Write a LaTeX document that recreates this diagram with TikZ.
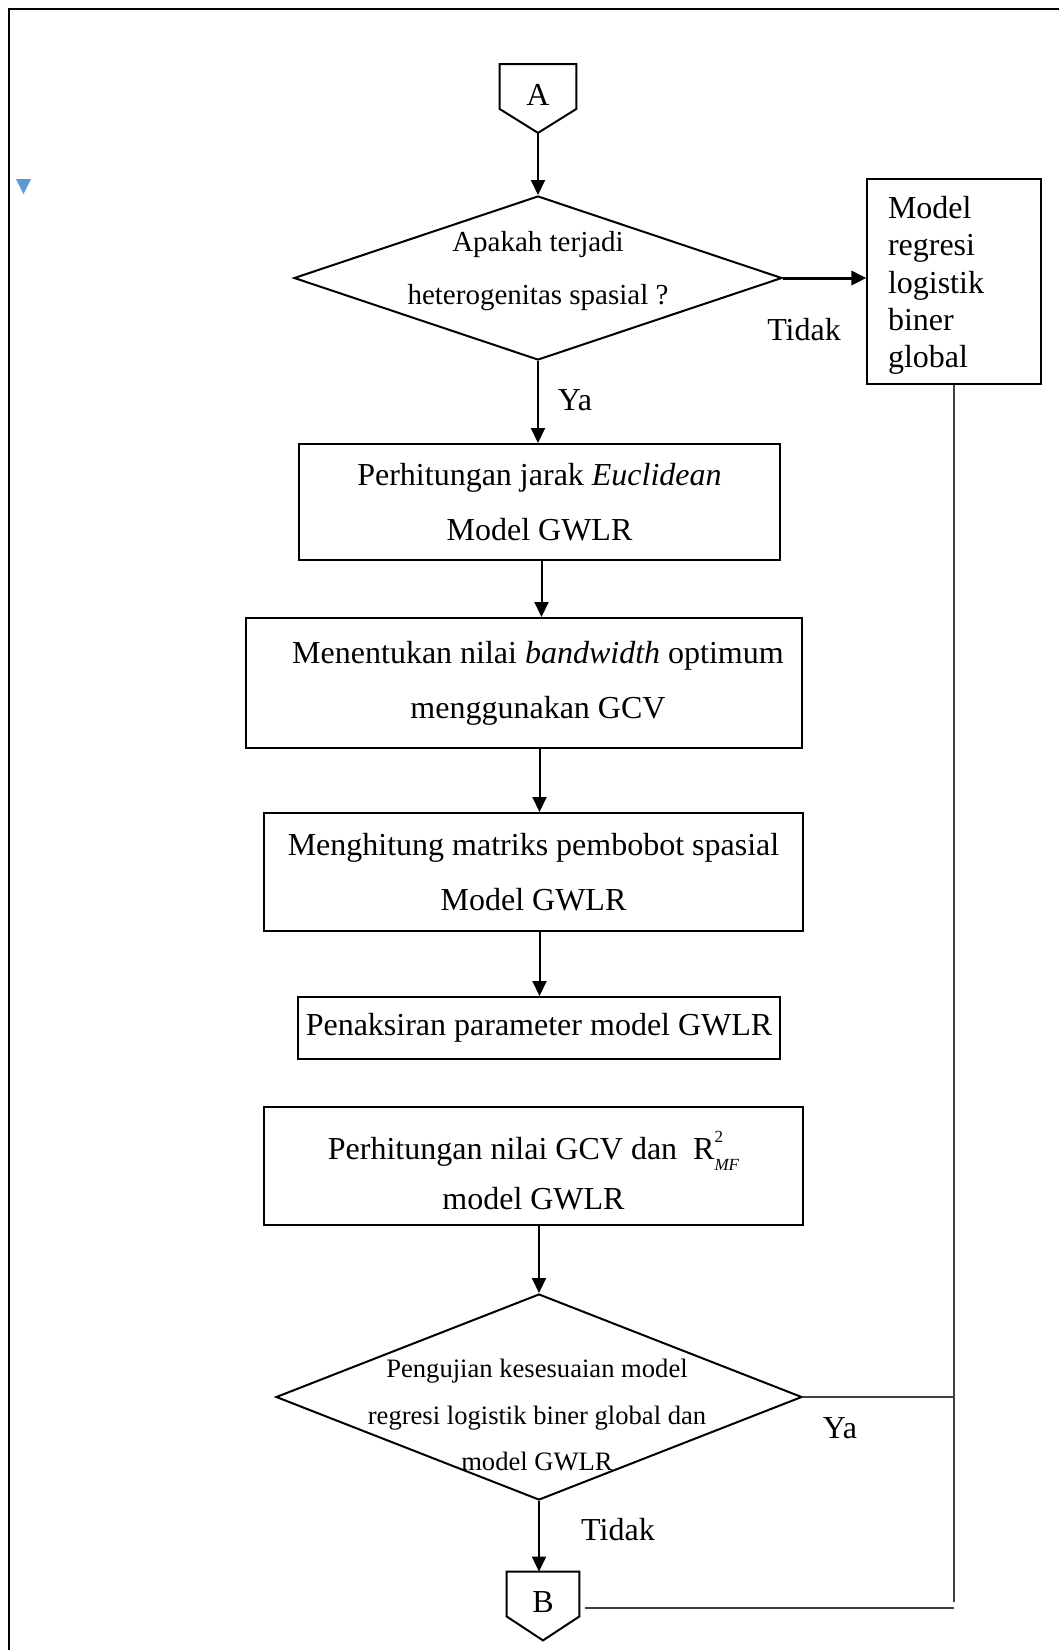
\documentclass[tikz,border=0pt]{standalone}
\usepackage{fontspec}
\setmainfont{Liberation Serif}
\usetikzlibrary{shapes.geometric,arrows.meta,positioning}

\definecolor{markblue}{HTML}{5B9BD5}
\definecolor{linkgray}{HTML}{404040}

\begin{document}
\begin{tikzpicture}[x=0.5pt,y=-0.5pt,
  every node/.style={font=\fontsize{16}{27.5}\selectfont},
  process/.style={draw, line width=1pt, inner sep=0pt, align=center},
  decision/.style={draw, diamond, line width=1pt, inner sep=0pt},
  offpage/.style={minimum width=38pt, minimum height=22pt, inner sep=0pt,
    text height=18.5pt, text depth=0pt},
  flow/.style={line width=1pt, -{Triangle[length=7.5pt,width=7pt]}},
  link/.style={draw=linkgray, line width=0.6pt}]
  \useasboundingbox (0,0) rectangle (1059,1650);

  % page frame and stray marker
  \draw[line width=1.1pt] (9,1650) -- (9,9) -- (1059,9);
  \fill[markblue] (16,179) -- (31,179) -- (23.5,194) -- cycle;

  % connector A
  \node (conA) [offpage] at (538,86.5) {A};
  \coordinate (Atip) at ([yshift=-12pt]conA.south);
  \draw[line width=1pt] (conA.north west) -- (conA.north east) -- (conA.south east)
    -- (Atip) -- (conA.south west) -- cycle;

  % first decision
  \node (dec1) [decision, minimum width=244pt, minimum height=82pt] at (538,278) {};
  \node (dec1txt) [font=\fontsize{14.5}{26.3}\selectfont, align=center] at (538,271)
    {Apakah terjadi\\heterogenitas spasial ?};
  \node (glob) [draw, line width=0.6pt, minimum width=87pt, minimum height=102.5pt,
    text width=66pt, inner xsep=10.5pt, align=left,
    font=\fontsize{16}{18.7}\selectfont] at (954,281.5)
    {\rule{0pt}{15pt}Model\\regresi\\logistik\\biner\\global};
  \node (tidak1) at (804,330) {Tidak};
  \node (ya1) at (575,400) {Ya};

  % process steps
  \node (proc1) [process, minimum width=240.5pt, minimum height=58pt] at (539.5,502)
    {Perhitungan jarak \textit{Euclidean}\\Model GWLR};
  \node (proc2) [process, minimum width=278pt, minimum height=65pt] at (524,683)
    {\hspace*{14pt}Menentukan nilai \textit{bandwidth} optimum\\\hspace*{14pt}menggunakan GCV};
  \node (proc3) [process, minimum width=269.5pt, minimum height=59pt] at (533.5,872)
    {Menghitung matriks pembobot spasial\\Model GWLR};
  \node (proc4) [process, minimum width=241pt, minimum height=31pt] at (539,1028)
    {Penaksiran parameter model GWLR};
  \node (proc5) [process, minimum width=269.5pt, minimum height=59pt,
    font=\fontsize{16}{25}\selectfont] at (533.5,1166)
    {\rule{0pt}{19pt}Perhitungan nilai GCV dan\ \ R\smash{\rlap{\raisebox{1.2ex}{\fontsize{8.5}{8.5}\selectfont 2}}\raisebox{-0.75ex}{\fontsize{8.5}{8.5}\selectfont\itshape MF}}\\model GWLR};

  % second decision
  \node (dec2) [decision, minimum width=263pt, minimum height=103pt] at (539,1397) {};
  \node (dec2txt) [font=\fontsize{13.3}{23.3}\selectfont, align=center] at (537,1415)
    {Pengujian kesesuaian model\\regresi logistik biner global dan\\model GWLR};
  \node (ya2) at (840,1428) {Ya};
  \node (tidak2) at (618,1530) {Tidak};

  % connector B
  \node (conB) [offpage, minimum width=36pt] at (543,1594) {B};
  \coordinate (Btip) at ([yshift=-12pt]conB.south);
  \draw[line width=1pt] (conB.north west) -- (conB.north east) -- (conB.south east)
    -- (Btip) -- (conB.south west) -- cycle;

  % flow lines
  \draw[flow] (Atip) -- (dec1.north);
  \draw[flow, line width=1.5pt] (dec1.east) -- (dec1.east -| glob.west);
  \draw[flow] (dec1.south) -- (dec1.south |- proc1.north);
  \draw[flow] ([xshift=1pt]proc1.south) -- ([xshift=1pt]proc1.south |- proc2.north);
  \draw[flow] (proc2.south -| proc1.south) -- (proc3.north -| proc1.south);
  \draw[flow] (proc3.south -| proc1.south) -- (proc4.north -| proc1.south);
  \draw[flow] (proc5.south -| dec2.north) -- (dec2.north);
  \draw[flow] (dec2.south) -- (dec2.south |- conB.north);

  % return lines
  \coordinate (vend) at (953,1602);
  \coordinate (Bline) at (585,1608);
  \draw[link] (glob.south) -- (glob.south |- vend);
  \draw[link] (dec2.east) -- (dec2.east -| glob.south);
  \draw[link] (Bline) -- (Bline -| glob.south);
\end{tikzpicture}
\end{document}
